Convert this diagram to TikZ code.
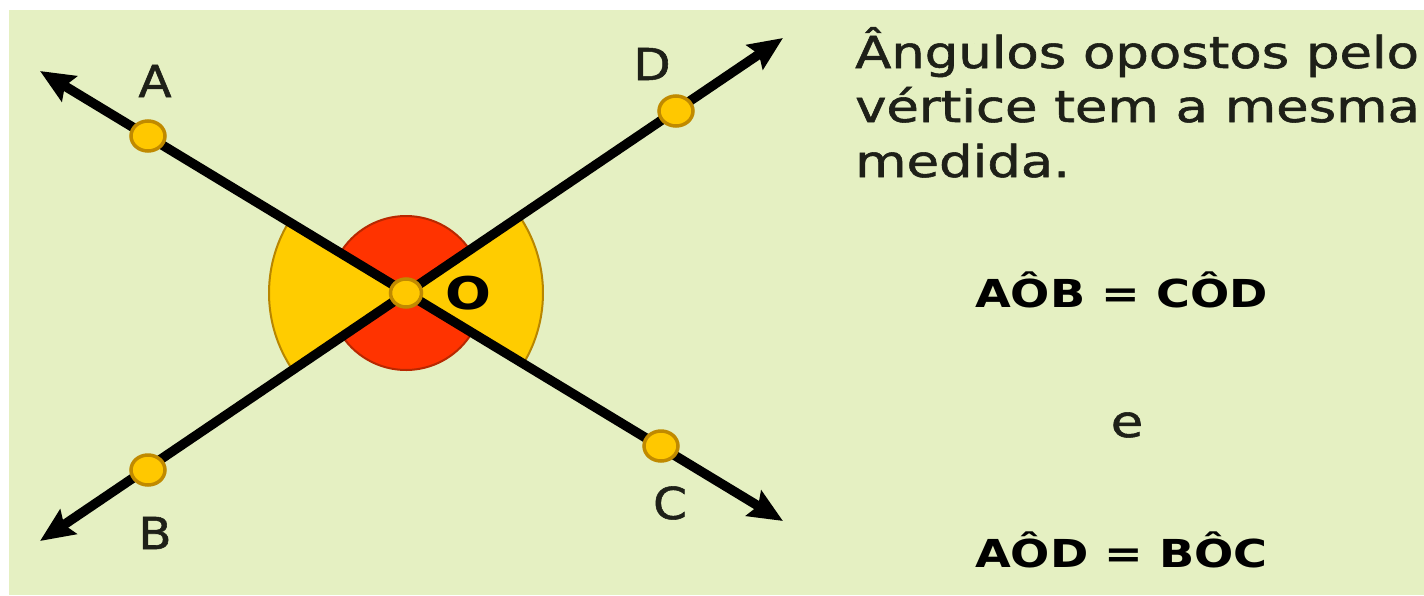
\documentclass[tikz,border=0pt]{standalone}
\usepackage{fontspec}
\setmainfont{DejaVu Sans}
\newfontfamily\txtfont{DejaVu Sans}[FakeBold=1.2]
\usepackage{graphicx}
\usetikzlibrary{arrows.meta,shapes.geometric}
\definecolor{bg}{HTML}{E5F0C2}
\definecolor{sunY}{HTML}{FFCC00}
\definecolor{sunYd}{HTML}{B88600}
\definecolor{redF}{HTML}{FF3300}
\definecolor{redD}{HTML}{B82800}
\definecolor{dotF}{HTML}{FFC800}
\definecolor{dotD}{HTML}{C08A00}
\definecolor{ink}{HTML}{1E2018}
\newcommand{\hstretch}[2][1.2]{\scalebox{#1}[1]{#2}}
\begin{document}
\begin{tikzpicture}[x=1pt,y=1pt,
  ray/.style={line width=9.5pt, black, {Stealth[length=34pt,width=29pt,inset=5pt]}-{Stealth[length=34pt,width=29pt,inset=5pt]}},
  dot/.style={ellipse, fill=dotF, draw=dotD, line width=3.5pt, minimum width=34pt, minimum height=30pt, inner sep=0},
  lbl/.style={text=ink, font=\txtfont\fontsize{44}{44}\selectfont, inner sep=0},
  para/.style={text=ink, font=\txtfont\fontsize{44}{55}\selectfont, inner sep=0, anchor=base west},
  eq/.style={text=black, font=\bfseries\fontsize{38.5}{40}\selectfont, inner sep=0, anchor=base west},
  ysec/.style={fill=sunY, draw=sunYd, line width=2pt},
  rsec/.style={fill=redF, draw=redD, line width=2pt}]
\useasboundingbox (0,0) rectangle (1424,-595);
\fill[white] (0,0) rectangle (1424,-595);
\fill[bg] (9,-10) rectangle (1424,-595);
\coordinate (O) at (406,-293);
\coordinate (tA) at (40,-71);
\coordinate (tC) at (783,-521);
\coordinate (tB) at (40,-541);
\coordinate (tD) at (783,-38);
% sectors
\filldraw[rsec] (O) -- ++(34.1:77) arc[start angle=34.1,end angle=148.9,radius=77] -- cycle;
\filldraw[rsec] (O) -- ++(214.1:77) arc[start angle=214.1,end angle=328.7,radius=77] -- cycle;
\filldraw[ysec] (O) -- ++(148.9:137) arc[start angle=148.9,end angle=214.1,radius=137] -- cycle;
\filldraw[ysec] (O) -- ++(-31.3:137) arc[start angle=-31.3,end angle=34.1,radius=137] -- cycle;
% lines
\draw[ray] (tA) -- (tC);
\draw[ray] (tB) -- (tD);
% dots
\node[dot] (dA) at (148,-136) {};
\node[dot] (dC) at (661,-446) {};
\node[dot] (dB) at (148,-470) {};
\node[dot] (dD) at (676,-111) {};
\node[dot, minimum width=31pt, minimum height=28pt] (dO) at (O) {};
% labels
\node[lbl] (labA) at (155,-81) {\hstretch[1.1]{A}};
\node[lbl] (labD) at (652,-64) {\hstretch[1.1]{D}};
\node[lbl] (labB) at (155,-533) {\hstretch[1.1]{B}};
\node[lbl] (labC) at (670,-503) {\hstretch[1.1]{C}};
\node[lbl, font=\bfseries\fontsize{45}{45}\selectfont, text=black] (labO) at (468,-293) {\hstretch{O}};
% text
\node[para] (t1) at (855,-68) {\hstretch{Ângulos opostos pelo}};
\node[para] (t2) at (855,-122) {\hstretch{vértice tem a mesma}};
\node[para] (t3) at (855,-177) {\hstretch{medida.}};
\node[eq] (eq1) at (975,-307) {\hstretch{AÔB = CÔD}};
\node[lbl, anchor=base] (conj) at (1127,-437) {\hstretch{e}};
\node[eq] (eq2) at (975,-567) {\hstretch{AÔD = BÔC}};
\end{tikzpicture}
\end{document}
